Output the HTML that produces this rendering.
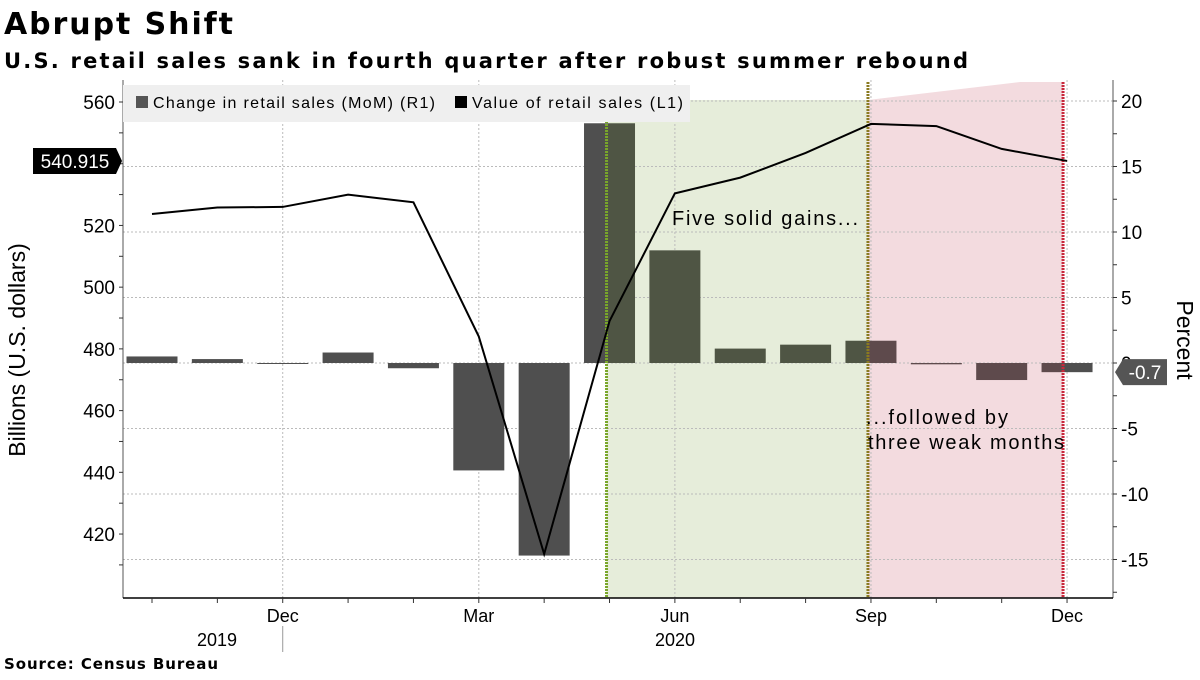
<!DOCTYPE html>
<html><head><meta charset="utf-8"><style>
body{margin:0;background:#fff;width:1200px;height:675px;overflow:hidden;font-family:"Liberation Sans","DejaVu Sans",sans-serif}
svg text{font-family:"Liberation Sans","DejaVu Sans",sans-serif}
svg text.dj{font-family:"DejaVu Sans","Liberation Sans",sans-serif}
</style></head><body>
<svg id="c" width="1200" height="675" xmlns="http://www.w3.org/2000/svg">
<text class="dj" x="4" y="34" font-size="30" font-weight="bold" textLength="229">Abrupt Shift</text>
<text class="dj" x="4" y="68" font-size="21" font-weight="bold" textLength="964">U.S. retail sales sank in fourth quarter after robust summer rebound</text>
<text class="dj" x="4" y="669" font-size="15" font-weight="bold" textLength="214">Source:  Census Bureau</text>
<g id="shade"></g>
<g id="grid"></g>
<g id="bars"></g>
<g id="vlines"></g>
<g id="line"></g>
<g id="axes"></g>
<rect x="123" y="85" width="567" height="37" fill="#efefef"/>
<rect x="136" y="96" width="12" height="12" fill="#555"/>
<text x="153" y="108" font-size="16" textLength="282">Change in retail sales (MoM) (R1)</text>
<rect x="455" y="96" width="12" height="12" fill="#000"/>
<text x="472" y="108" font-size="16" textLength="211">Value of retail sales (L1)</text>
<text x="672" y="225" font-size="20" textLength="186">Five solid gains...</text>
<text x="866" y="424" font-size="20" textLength="142">...followed by</text>
<text x="868" y="449" font-size="20" textLength="196">three weak months</text>
<text transform="translate(25,350) rotate(-90)" text-anchor="middle" font-size="23">Billions (U.S. dollars)</text>
<text transform="translate(1177,340) rotate(90)" text-anchor="middle" font-size="23">Percent</text>
</svg>
<script>
const months=['Oct','Nov','Dec','Jan','Feb','Mar','Apr','May','Jun','Jul','Aug','Sep','Oct','Nov','Dec'];
const changePct=[0.5,0.3,0.0,0.8,-0.4,-8.2,-14.7,18.3,8.6,1.1,1.4,1.7,-0.1,-1.3,-0.7];
const salesValue=[523.7,525.8,526.0,530.0,527.5,484.0,413.5,489.0,530.4,535.5,543.5,552.9,552.2,544.8,540.9];
const leftTicks=[420,440,460,480,500,520,540,560];
const rightTicks=[-15,-10,-5,0,5,10,15,20];
const monthLabels=['Dec','Mar','Jun','Sep','Dec'];
const monthLabelIdx=[2,5,8,11,14];

const NS='http://www.w3.org/2000/svg';
const X0=123,X1=1113,YB=598,YT=80;
const xAt=i=>152+i*65.36;
const yL=v=>102+(560-v)*3.086;
const yR=v=>363-v*13.1;
function mk(p,tag,at){const e=document.createElementNS(NS,tag);for(const k in at)e.setAttribute(k,at[k]);document.getElementById(p).appendChild(e);return e;}

const g1=xAt(7)-3,g2=xAt(11)-3,g3=xAt(14)-4;
let s=mk('shade','rect',{x:g1,y:100,width:g2-g1,height:YB-100,fill:'#e6edda'});


s=mk('shade','polygon',{points:`${g2},100 1020,82 ${g3},82 ${g3},${YB} ${g2},${YB}`,fill:'#f3dbdf'});



rightTicks.forEach(t=>{const l=mk('grid','line',{x1:X0,x2:X1,y1:yR(t),y2:yR(t),stroke:'#bbb','stroke-dasharray':'2,2','stroke-width':1});

});
monthLabelIdx.forEach(i=>{const l=mk('grid','line',{x1:xAt(i),x2:xAt(i),y1:YT,y2:YB,stroke:'#bbb','stroke-dasharray':'2,2'});

});

// bars, coloured by shaded region
const regions=[[-1e9,g1,'#4f4f4f'],[g1,g2,'#4f5544'],[g2,g3,'#5e4a4c'],[g3,1e9,'#4f4f4f']];
changePct.forEach((v,i)=>{const x=xAt(i)-25.5,w=51;const y=Math.min(yR(v),yR(0));let h=Math.abs(yR(v)-yR(0));if(h<1)h=1;
const grp=mk('bars','g',{});


regions.forEach(r=>{const a=Math.max(x,r[0]),b=Math.min(x+w,r[1]);if(b>a){const e=document.createElementNS(NS,'rect');
e.setAttribute('x',a);e.setAttribute('y',y);e.setAttribute('width',b-a);e.setAttribute('height',h);e.setAttribute('fill',r[2]);grp.appendChild(e);}});});

[[g1,'#7aa62a'],[g2,'#8a7a20'],[g3,'#c8283c']].forEach((a,k)=>{const l=mk('vlines','line',{x1:a[0],x2:a[0],y1:k?82:100,y2:YB,stroke:a[1],'stroke-width':3,'stroke-dasharray':'2,1'});

});

const pts=salesValue.map((v,i)=>xAt(i)+','+yL(v)).join(' ');
const pl=mk('line','polyline',{points:pts,fill:'none',stroke:'#000','stroke-width':2});



let a=mk('axes','line',{x1:X0,x2:X0,y1:YT,y2:YB,stroke:'#555'});


a=mk('axes','line',{x1:X1,x2:X1,y1:YT,y2:YB,stroke:'#555'});


a=mk('axes','line',{x1:X0,x2:X1,y1:YB,y2:YB,stroke:'#000','stroke-width':1.5});


for(let v=410;v<=560;v+=10){mk('axes','line',{x1:X0-4,x2:X0,y1:yL(v),y2:yL(v),stroke:'#333'});}
leftTicks.forEach(t=>{const e=mk('axes','text',{x:X0-8,y:yL(t)+7,'text-anchor':'end','font-size':19});e.textContent=t;

});
for(let v=-17.5;v<=20;v+=2.5){mk('axes','line',{x1:X1,x2:X1+4,y1:yR(v),y2:yR(v),stroke:'#333'});}
rightTicks.forEach(t=>{const e=mk('axes','text',{x:X1+8,y:yR(t)+7,'font-size':19});e.textContent=t;

});
months.forEach((m,i)=>mk('axes','line',{x1:xAt(i),x2:xAt(i),y1:YB,y2:YB+5,stroke:'#333'}));
monthLabelIdx.forEach((i,k)=>{const e=mk('axes','text',{x:xAt(i),y:622,'text-anchor':'middle','font-size':18});e.textContent=monthLabels[k];

});
[['2019',217],['2020',675]].forEach(y=>{const e=mk('axes','text',{x:y[1],y:646,'text-anchor':'middle','font-size':18});e.textContent=y[0];

});
mk('axes','line',{x1:xAt(2),x2:xAt(2),y1:626,y2:652,stroke:'#999'});

const lv=salesValue[salesValue.length-1],ly=yL(lv);
let b=mk('axes','polygon',{points:`33,${ly-13} 116,${ly-13} 122,${ly} 116,${ly+13} 33,${ly+13}`,fill:'#000'});


let t=mk('axes','text',{x:75,y:ly+7,'text-anchor':'middle','font-size':19,fill:'#fff'});t.textContent='540.915';


const rv=changePct[changePct.length-1],ry=yR(rv);
b=mk('axes','polygon',{points:`1115,${ry} 1123,${ry-13} 1167,${ry-13} 1167,${ry+13} 1123,${ry+13}`,fill:'#555'});


t=mk('axes','text',{x:1145,y:ry+7,'text-anchor':'middle','font-size':19,fill:'#fff'});t.textContent=rv.toFixed(1);


</script>
</body></html>
